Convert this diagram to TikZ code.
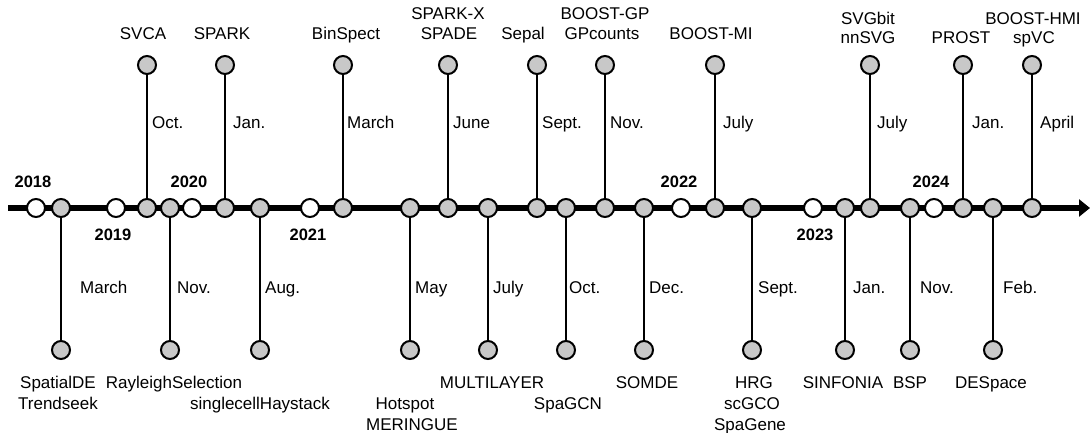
\documentclass[tikz,border=0pt]{standalone}
\usepackage{fontspec}
\setmainfont{Liberation Sans}
\usetikzlibrary{arrows.meta}
\definecolor{evfill}{RGB}{200,200,200}
\begin{document}
\begin{tikzpicture}[x=1pt,y=-1pt,
  evt/.style={circle,draw=black,line width=2pt,fill=evfill,minimum size=18pt,inner sep=0pt},
  yrdot/.style={evt,fill=white},
  axisline/.style={line width=5.5pt},
  stem/.style={line width=1.8pt},
  txt/.style={inner sep=0pt,font=\fontsize{17}{20}\selectfont},
  nm/.style={txt,anchor=base},
  mon/.style={txt,anchor=base west},
  yr/.style={txt,anchor=base,font=\fontsize{16.5}{20}\selectfont\bfseries}]
\useasboundingbox (0,0) rectangle (1090,433);
% axis
\coordinate (s) at (8,208);
\coordinate (e) at (1090,208);
\draw[axisline,-{Triangle[length=11pt,width=17pt]}] (s) -- (e);
% year markers
\node[yrdot] (y18) at (36,208) {};
\node[yrdot] (y19) at (116,208) {};
\node[yrdot] (y20) at (192,208) {};
\node[yrdot] (y21) at (310,208) {};
\node[yrdot] (y22) at (681,208) {};
\node[yrdot] (y23) at (813,208) {};
\node[yrdot] (y24) at (934,208) {};
\node[yr] (l18) at (33,188) {2018};
\node[yr] (l19) at (113,240) {2019};
\node[yr] (l20) at (189,188) {2020};
\node[yr] (l21) at (308,240) {2021};
\node[yr] (l22) at (679,188) {2022};
\node[yr] (l23) at (815,240) {2023};
\node[yr] (l24) at (931,188) {2024};
% axis event circles
\node[evt] (a1) at (61,208) {};
\node[evt] (a2) at (147,208) {};
\node[evt] (a3) at (170,208) {};
\node[evt] (a4) at (225,208) {};
\node[evt] (a5) at (260,208) {};
\node[evt] (a6) at (343,208) {};
\node[evt] (a7) at (410,208) {};
\node[evt] (a8) at (448,208) {};
\node[evt] (a9) at (488,208) {};
\node[evt] (a10) at (537,208) {};
\node[evt] (a11) at (566,208) {};
\node[evt] (a12) at (605,208) {};
\node[evt] (a13) at (644,208) {};
\node[evt] (a14) at (715,208) {};
\node[evt] (a15) at (752,208) {};
\node[evt] (a16) at (845,208) {};
\node[evt] (a17) at (870,208) {};
\node[evt] (a18) at (910,208) {};
\node[evt] (a19) at (963,208) {};
\node[evt] (a20) at (993,208) {};
\node[evt] (a21) at (1032,208) {};
% end circles
\node[evt] (e1) at (61,350) {};
\node[evt] (e2) at (147,65) {};
\node[evt] (e3) at (170,350) {};
\node[evt] (e4) at (225,65) {};
\node[evt] (e5) at (260,350) {};
\node[evt] (e6) at (343,65) {};
\node[evt] (e7) at (410,350) {};
\node[evt] (e8) at (448,65) {};
\node[evt] (e9) at (488,350) {};
\node[evt] (e10) at (537,65) {};
\node[evt] (e11) at (566,350) {};
\node[evt] (e12) at (605,65) {};
\node[evt] (e13) at (644,350) {};
\node[evt] (e14) at (715,65) {};
\node[evt] (e15) at (752,350) {};
\node[evt] (e16) at (845,350) {};
\node[evt] (e17) at (870,65) {};
\node[evt] (e18) at (910,350) {};
\node[evt] (e19) at (963,65) {};
\node[evt] (e20) at (993,350) {};
\node[evt] (e21) at (1032,65) {};
% stems
\foreach \i in {1,...,21} { \draw[stem] (a\i) -- (e\i); }
% month labels
\node[mon] (m1) at (80,293) {March};
\node[mon] (m2) at (152,129) {Oct.};
\node[mon] (m3) at (177,293) {Nov.};
\node[mon] (m4) at (233,129) {Jan.};
\node[mon] (m5) at (265,293) {Aug.};
\node[mon] (m6) at (347,129) {March};
\node[mon] (m7) at (415,293) {May};
\node[mon] (m8) at (453,129) {June};
\node[mon] (m9) at (493,293) {July};
\node[mon] (m10) at (542,129) {Sept.};
\node[mon] (m11) at (569,293) {Oct.};
\node[mon] (m12) at (610,129) {Nov.};
\node[mon] (m13) at (649,293) {Dec.};
\node[mon] (m14) at (723,129) {July};
\node[mon] (m15) at (758,293) {Sept.};
\node[mon] (m16) at (853,293) {Jan.};
\node[mon] (m17) at (877,129) {July};
\node[mon] (m18) at (920,293) {Nov.};
\node[mon] (m19) at (972,129) {Jan.};
\node[mon] (m20) at (1003,293) {Feb.};
\node[mon] (m21) at (1040,129) {April};
% method names - top
\node[nm] (n2) at (143,40) {SVCA};
\node[nm] (n4) at (222,40) {SPARK};
\node[nm] (n6) at (346,40) {BinSpect};
\node[nm] (n8a) at (448,20) {SPARK-X};
\node[nm] (n8b) at (449,40) {SPADE};
\node[nm] (n10) at (523,40) {Sepal};
\node[nm] (n12a) at (605,20) {BOOST-GP};
\node[nm] (n12b) at (602,40) {GPcounts};
\node[nm] (n14) at (711,40) {BOOST-MI};
\node[nm] (n17a) at (868,25) {SVGbit};
\node[nm] (n17b) at (868,44) {nnSVG};
\node[nm] (n19) at (961,44) {PROST};
\node[nm] (n21a) at (1033,25) {BOOST-HMI};
\node[nm] (n21b) at (1034,44) {spVC};
% method names - bottom
\node[nm] (n1a) at (58,388) {SpatialDE};
\node[nm] (n1b) at (58,409) {Trendseek};
\node[nm] (n3) at (174,388) {RayleighSelection};
\node[nm] (n5) at (260,409) {singlecellHaystack};
\node[nm] (n7a) at (405,409) {Hotspot};
\node[nm] (n7b) at (412,430) {MERINGUE};
\node[nm] (n9) at (492,388) {MULTILAYER};
\node[nm] (n11) at (568,409) {SpaGCN};
\node[nm] (n13) at (647,388) {SOMDE};
\node[nm] (n15a) at (754,388) {HRG};
\node[nm] (n15b) at (752,409) {scGCO};
\node[nm] (n15c) at (750,430) {SpaGene};
\node[nm] (n16) at (843,388) {SINFONIA};
\node[nm] (n18) at (910,388) {BSP};
\node[nm] (n20) at (991,388) {DESpace};
\end{tikzpicture}
\end{document}
